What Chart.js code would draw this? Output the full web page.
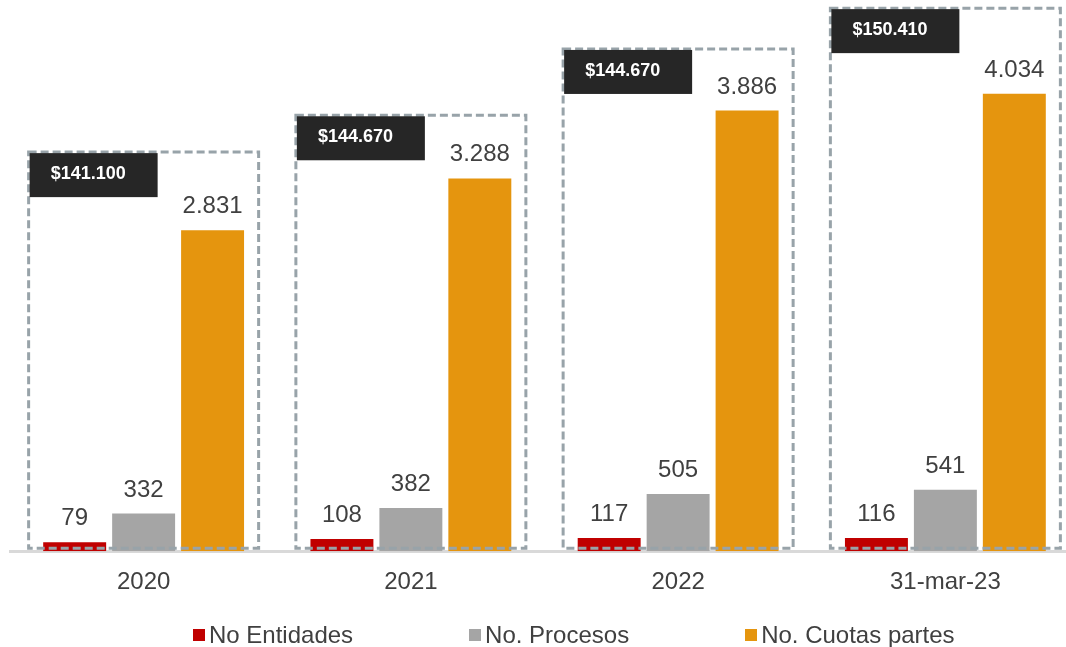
<!DOCTYPE html>
<html>
<head>
<meta charset="utf-8">
<script src="https://cdn.jsdelivr.net/npm/chart.js@4/dist/chart.umd.min.js"></script>
<style>
  html, body { margin: 0; padding: 0; background: #fff; overflow: hidden; }
  .chart-container { position: relative; width: 1080px; height: 647px; }
  .legend {
    position: absolute; left: 193px; top: 620px;
    display: flex; gap: 116px;
    font-family: "Liberation Sans", Arial, sans-serif;
    font-size: 24px; line-height: 30px; color: #404040;
  }
  .legend span { display: flex; align-items: center; }
  .legend i { display: inline-block; width: 12px; height: 12px; margin-right: 4px; }
</style>
</head>
<body>
<section class="chart-container">
  <canvas id="barChart" width="1080" height="647"></canvas>
  <div class="legend" id="legend"></div>
</section>
<script>
const labels = ["2020", "2021", "2022", "31-mar-23"];
const entidades = [79, 108, 117, 116];
const procesos = [332, 382, 505, 541];
const cuotasPartes = [2831, 3288, 3886, 4034];
const montos = [141100, 144670, 144670, 150410];
// top edge of each dashed frame, in axis units
const frameTop = [3520, 3845, 4430, 4790];

const fmt = (v) => String(v).replace(/\B(?=(\d{3})+(?!\d))/g, ".");

// value labels above every bar
const valueLabels = {
  id: "valueLabels",
  afterDatasetsDraw(chart) {
    const ctx = chart.ctx;
    ctx.save();
    ctx.font = "24px 'Liberation Sans', Arial, sans-serif";
    ctx.fillStyle = "#404040";
    ctx.textAlign = "center";
    ctx.textBaseline = "alphabetic";
    chart.data.datasets.forEach((ds, i) => {
      chart.getDatasetMeta(i).data.forEach((bar, j) => {
        ctx.fillText(fmt(ds.data[j]), bar.x, bar.y - 17);
      });
    });
    ctx.restore();
  },
};

// dashed frame around each year plus the black amount tag
const groupFrames = {
  id: "groupFrames",
  afterDraw(chart) {
    const ctx = chart.ctx;
    const x = chart.scales.x;
    const y = chart.scales.y;
    ctx.save();
    labels.forEach((_, i) => {
      const cx = x.getPixelForValue(i);
      const left = cx - 115;
      const top = y.getPixelForValue(frameTop[i]);
      const bottom = y.getPixelForValue(0) - 3;
      ctx.setLineDash([8, 4]);
      ctx.lineWidth = 3;
      ctx.strokeStyle = "#98a3a9";
      ctx.strokeRect(left, top, 230, bottom - top);
      ctx.setLineDash([]);
      ctx.fillStyle = "#262626";
      ctx.fillRect(left + 1, top + 1, 128, 44);
      ctx.fillStyle = "#ffffff";
      ctx.font = "bold 18px 'Liberation Sans', Arial, sans-serif";
      ctx.textAlign = "left";
      ctx.textBaseline = "middle";
      ctx.fillText("$" + fmt(montos[i]), left + 22, top + 22);
    });
    ctx.restore();
  },
};

const chart = new Chart(document.getElementById("barChart"), {
  type: "bar",
  data: {
    labels: labels,
    datasets: [
      { label: "No Entidades", data: entidades, backgroundColor: "#c00000" },
      { label: "No. Procesos", data: procesos, backgroundColor: "#a5a5a5" },
      { label: "No. Cuotas partes", data: cuotasPartes, backgroundColor: "#e5950e" },
    ],
  },
  options: {
    responsive: false,
    animation: false,
    devicePixelRatio: 1,
    layout: { padding: { left: 10, right: 1, top: 7, bottom: 33 } },
    datasets: {
      bar: { categoryPercentage: 0.774, barPercentage: 0.913 },
    },
    plugins: {
      legend: { display: false },
      tooltip: { enabled: false },
    },
    scales: {
      x: {
        grid: { display: false, drawTicks: false },
        border: { display: true, color: "#d9d9d9", width: 3 },
        ticks: {
          color: "#404040",
          padding: 17,
          font: { family: "'Liberation Sans', Arial, sans-serif", size: 24 },
        },
      },
      y: {
        display: false,
        min: 0,
        max: 4800,
      },
    },
  },
  plugins: [valueLabels, groupFrames],
});

const legend = document.getElementById("legend");
chart.data.datasets.forEach((ds) => {
  legend.insertAdjacentHTML(
    "beforeend",
    `<span><i style="background:${ds.backgroundColor}"></i>${ds.label}</span>`
  );
});
</script>
</body>
</html>
